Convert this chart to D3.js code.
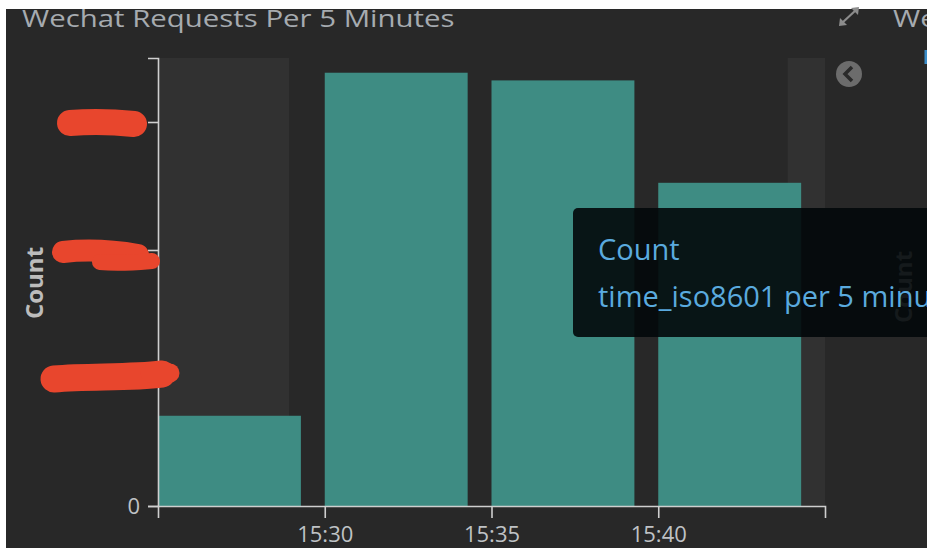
<!DOCTYPE html>
<html>
<head>
<meta charset="utf-8">
<script src="https://cdn.jsdelivr.net/npm/d3@7"></script>
<style>
  html, body { margin: 0; padding: 0; background: #ffffff; }
  svg { display: block; font-family: "Open Sans", sans-serif; }
</style>
</head>
<body>
<svg id="chart" width="927" height="548"></svg>
<script>
// ---- data ----
const title = "Wechat Requests Per 5 Minutes";
const bucketStarts = ["15:25", "15:30", "15:35", "15:40"];
const counts = [1410, 6770, 6650, 5050];
const xDomain = ["15:25", "15:45"];
const xTickLabels = ["15:30", "15:35", "15:40"];
const timeBounds = ["15:28:56", "15:43:53"]; // selected time range (outside is shaded)
const yTickValues = [0, 2000, 4000, 6000];
const yTickLabels = ["0", "", "", ""]; // redacted in the source
const yMax = 7000;
const yLabel = "Count";
const tooltipLines = ["Count", "time_iso8601 per 5 minutes"];

// ---- setup ----
const svg = d3.select("#chart");
const W = 927, H = 548;
const parseHM = s => d3.timeParse("%H:%M:%S")(s.length === 5 ? s + ":00" : s);
const x = d3.scaleTime().domain(xDomain.map(parseHM)).range([158, 825]);
const y = d3.scaleLinear().domain([0, yMax]).range([506, 58]);

// panel background
svg.append("rect").attr("x", 6).attr("y", 9).attr("width", W - 6).attr("height", H - 9).attr("fill", "#282828");

// title (clipped at the top of the panel)
const clip = svg.append("defs").append("clipPath").attr("id", "panelClip");
clip.append("rect").attr("x", 6).attr("y", 9).attr("width", W - 6).attr("height", H - 9);
const g0 = svg.append("g").attr("clip-path", "url(#panelClip)");
g0.append("text").attr("transform", "translate(22,27) scale(1.2,1)")
  .attr("font-size", 24.5).attr("fill", "#a6abb0").text(title);
g0.append("text").attr("transform", "translate(893,27) scale(1.2,1)")
  .attr("font-size", 24.5).attr("fill", "#a6abb0").text(title);

// shaded regions outside the selected time range
const b0 = parseHM(timeBounds[0]), b1 = parseHM(timeBounds[1]);
svg.append("rect").attr("x", x.range()[0]).attr("y", y(yMax))
  .attr("width", x(b0) - x.range()[0]).attr("height", y(0) - y(yMax)).attr("fill", "#313131");
svg.append("rect").attr("x", x(b1)).attr("y", y(yMax))
  .attr("width", x.range()[1] - x(b1)).attr("height", y(0) - y(yMax)).attr("fill", "#313131");

// bars
const starts = bucketStarts.map(parseHM);
const slot = x(d3.timeMinute.offset(starts[0], 5)) - x(starts[0]);
svg.append("g").selectAll("rect").data(counts).join("rect")
  .attr("x", (d, i) => x(starts[i]))
  .attr("y", d => y(d))
  .attr("width", slot * 0.857)
  .attr("height", d => y(0) - y(d))
  .attr("fill", "#3e8c83");

// axes
const axisColor = "#cfcfcf";
const xAxis = d3.axisBottom(x)
  .tickValues(xTickLabels.map(parseHM))
  .tickFormat((d, i) => xTickLabels[i])
  .tickSizeInner(12).tickSizeOuter(12).tickPadding(8);
const gx = svg.append("g").attr("transform", `translate(0,${y(0)})`).call(xAxis);
const yAxis = d3.axisLeft(y)
  .tickValues(yTickValues)
  .tickFormat((d, i) => yTickLabels[i])
  .tickSizeInner(10).tickSizeOuter(10).tickPadding(8);
const gy = svg.append("g").attr("transform", `translate(${x.range()[0]},0)`).call(yAxis);
[gx, gy].forEach(g => {
  g.selectAll("path, line").attr("stroke", axisColor).attr("stroke-width", 1.6);
  g.selectAll("text").attr("fill", "#bfc2c5").attr("font-size", 22).attr("font-family", "Open Sans, sans-serif");
});

// y axis label
svg.append("text").attr("transform", "translate(43,283) rotate(-90)")
  .attr("text-anchor", "middle").attr("font-weight", "bold").attr("font-size", 24)
  .attr("fill", "#bcbcbc").text(yLabel);

// neighbouring panel's y label (seen through the tooltip)
svg.append("text").attr("transform", "translate(912,287) rotate(-90)")
  .attr("text-anchor", "middle").attr("font-weight", "bold").attr("font-size", 24)
  .attr("fill", "#bcbcbc").text(yLabel);

// redaction scribbles over tick labels
const red = "#e8462d";
const scrib = svg.append("g").attr("stroke", red).attr("fill", "none").attr("stroke-linecap", "round");
scrib.append("path").attr("d", "M70,123 C95,121 115,122 134,124").attr("stroke-width", 26);
scrib.append("path").attr("d", "M63,252 C90,249 115,251 138,255").attr("stroke-width", 22);
scrib.append("path").attr("d", "M100,262 C120,264 140,262 152,261").attr("stroke-width", 16);
scrib.append("path").attr("d", "M54,379 C90,376 130,378 162,374").attr("stroke-width", 27);
scrib.append("path").attr("d", "M150,373 L170,373").attr("stroke-width", 19);

// expand icon
const icon = svg.append("g").attr("stroke", "#8c8c8c").attr("stroke-width", 2.2).attr("fill", "#8c8c8c");
icon.append("line").attr("x1", 842).attr("y1", 23).attr("x2", 856).attr("y2", 10);
icon.append("path").attr("d", "M839,26 L840,18 L847,25 Z").attr("stroke", "none");
icon.append("path").attr("d", "M859,7 L858,15 L851,8 Z").attr("stroke", "none");

// collapse circle icon
svg.append("circle").attr("cx", 849).attr("cy", 74).attr("r", 13).attr("fill", "#6c6c6c");
svg.append("path").attr("d", "M852,67 L845,74 L852,81").attr("fill", "none")
  .attr("stroke", "#2a2a2a").attr("stroke-width", 3.5);
svg.append("rect").attr("x", 924.5).attr("y", 50).attr("width", 2.5).attr("height", 14).attr("fill", "#3a8cc8");

// tooltip
svg.append("rect").attr("x", 573).attr("y", 208).attr("width", 420).attr("height", 129)
  .attr("rx", 5).attr("fill", "#02080a").attr("fill-opacity", 0.9);
svg.append("g").selectAll("text").data(tooltipLines).join("text")
  .attr("x", 598).attr("y", (d, i) => 260 + i * 47)
  .attr("font-size", 29).attr("fill", "#5aaade").text(d => d);
</script>
</body>
</html>
